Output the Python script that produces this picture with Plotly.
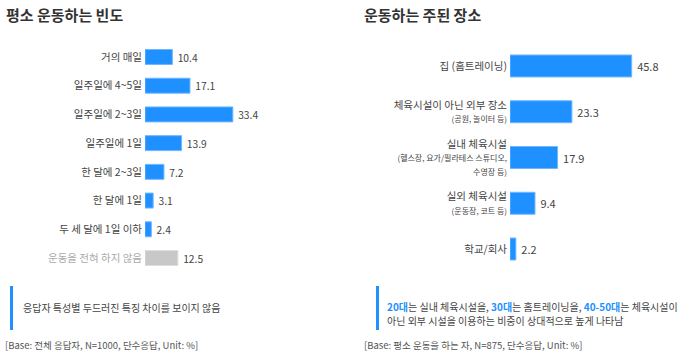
import plotly.graph_objects as go

# Left chart data
freq_labels = ["거의 매일", "일주일에 4~5일", "일주일에 2~3일", "일주일에 1일",
               "한 달에 2~3일", "한 달에 1일", "두 세 달에 1일 이하", "운동을 전혀 하지 않음"]
freq_values = [10.4, 17.1, 33.4, 13.9, 7.2, 3.1, 2.4, 12.5]

# Right chart data
place_labels = ["집 (홈트레이닝)", "체육시설이 아닌 외부 장소", "실내 체육시설", "실외 체육시설", "학교/회사"]
place_sublabels = ["", "(공원, 놀이터 등)", "(헬스장, 요가/필라테스 스튜디오,|수영장 등)", "(운동장, 코트 등)", ""]
place_values = [45.8, 23.3, 17.9, 9.4, 2.2]

BLUE = "#1E90FF"
GRAY = "#C8C8C8"
FONT = "Noto Sans CJK KR"
W, H = 700, 355

fig = go.Figure()

# left bars
left_colors = [BLUE] * 7 + [GRAY]
left_line = ["#6FB6FF"] * 7 + ["#DDDDDD"]
fig.add_trace(go.Bar(
    y=list(range(len(freq_labels))), x=freq_values, orientation="h",
    marker=dict(color=left_colors, line=dict(color=left_line, width=1)),
    width=0.52,
    text=["\u00a0" + f"{v:.1f}" for v in freq_values], textposition="outside",
    textfont=dict(family=FONT, size=11, color="#444444"),
    cliponaxis=False, xaxis="x", yaxis="y", hoverinfo="skip"))

# right bars
fig.add_trace(go.Bar(
    y=list(range(len(place_labels))), x=place_values, orientation="h",
    marker=dict(color=BLUE, line=dict(color="#6FB6FF", width=1)),
    width=0.48,
    text=["\u00a0" + f"{v:.1f}" for v in place_values], textposition="outside",
    textfont=dict(family=FONT, size=11, color="#444444"),
    cliponaxis=False, xaxis="x2", yaxis="y2", hoverinfo="skip"))

left_ticktext = []
for i, lab in enumerate(freq_labels):
    if i == len(freq_labels) - 1:
        left_ticktext.append(f"<span style='color:#AAAAAA'>{lab}</span>")
    else:
        left_ticktext.append(lab)

right_ticktext = []
for lab, sub in zip(place_labels, place_sublabels):
    t = lab
    if sub:
        for part in sub.split("|"):
            t += f"<br><span style='font-size:8px'>{part}</span>"
    right_ticktext.append(t)

def yfrac(px):
    return 1 - px / H

fig.update_layout(
    width=W, height=H, margin=dict(l=0, r=0, t=0, b=0),
    paper_bgcolor="white", plot_bgcolor="white", showlegend=False,
    font=dict(family=FONT, color="#444444"),
    xaxis=dict(domain=[145 / W, 300 / W], range=[0, 155 / 2.63], visible=False),
    yaxis=dict(domain=[yfrac(272.4), yfrac(42.6)], range=[7.5, -0.5],
               tickmode="array", tickvals=list(range(len(freq_labels))), ticktext=left_ticktext,
               showgrid=False, zeroline=False, showline=False, ticks="",
               ticklabelstandoff=2,
               tickfont=dict(family=FONT, size=10.5, color="#444444")),
    xaxis2=dict(domain=[510 / W, 690 / W], range=[0, 180 / 2.657], visible=False),
    yaxis2=dict(domain=[yfrac(271.9), yfrac(43.1)], range=[4.5, -0.5], anchor="x2",
                tickmode="array", tickvals=list(range(len(place_labels))), ticktext=right_ticktext,
                showgrid=False, zeroline=False, showline=False, ticks="",
                ticklabelstandoff=2,
                tickfont=dict(family=FONT, size=10.5, color="#444444")),
)

# titles
fig.add_annotation(text="<b>평소 운동하는 빈도</b>", x=4 / W, y=yfrac(15), xref="paper", yref="paper",
                   xanchor="left", yanchor="middle", showarrow=False,
                   font=dict(family=FONT, size=15, color="#333333"))
fig.add_annotation(text="<b>운동하는 주된 장소</b>", x=362 / W, y=yfrac(15), xref="paper", yref="paper",
                   xanchor="left", yanchor="middle", showarrow=False,
                   font=dict(family=FONT, size=15, color="#333333"))

# note bars
fig.add_shape(type="line", xref="paper", yref="paper", x0=11.5 / W, x1=11.5 / W,
              y0=yfrac(286), y1=yfrac(330), line=dict(color=BLUE, width=3))
fig.add_shape(type="line", xref="paper", yref="paper", x0=377.5 / W, x1=377.5 / W,
              y0=yfrac(286), y1=yfrac(330), line=dict(color=BLUE, width=3))

fig.add_annotation(text="응답자 특성별 두드러진 특징 차이를 보이지 않음", x=21 / W, y=yfrac(307),
                   xref="paper", yref="paper", xanchor="left", yanchor="middle", showarrow=False,
                   font=dict(family=FONT, size=10, color="#444444"))
B = "<span style='color:#1E90FF'><b>{}</b></span>"
note2_line1 = (B.format("20대") + "는 실내 체육시설을, " + B.format("30대") + "는 홈트레이닝을, "
               + B.format("40-50대") + "는 체육시설이")
note2_line2 = "아닌 외부 시설을 이용하는 비중이 상대적으로 높게 나타남"
fig.add_annotation(text=note2_line1, x=386 / W, y=yfrac(306.5), align="left",
                   xref="paper", yref="paper", xanchor="left", yanchor="middle", showarrow=False,
                   borderpad=0, font=dict(family=FONT, size=10, color="#444444"))
fig.add_annotation(text=note2_line2, x=386 / W, y=yfrac(320.5), align="left",
                   xref="paper", yref="paper", xanchor="left", yanchor="middle", showarrow=False,
                   borderpad=0, font=dict(family=FONT, size=10, color="#444444"))

fig.add_annotation(text="[Base: 전체 응답자, N=1000, 단수응답, Unit: %]", x=3 / W, y=yfrac(345),
                   xref="paper", yref="paper", xanchor="left", yanchor="middle", showarrow=False,
                   font=dict(family=FONT, size=9.5, color="#555555"))
fig.add_annotation(text="[Base: 평소 운동을 하는 자, N=875, 단수응답, Unit: %]", x=362 / W, y=yfrac(345),
                   xref="paper", yref="paper", xanchor="left", yanchor="middle", showarrow=False,
                   font=dict(family=FONT, size=9.5, color="#555555"))

fig.write_html("out.html", config={"displayModeBar": False},
               post_script="document.body.style.margin='0';document.body.style.overflow='hidden';")
